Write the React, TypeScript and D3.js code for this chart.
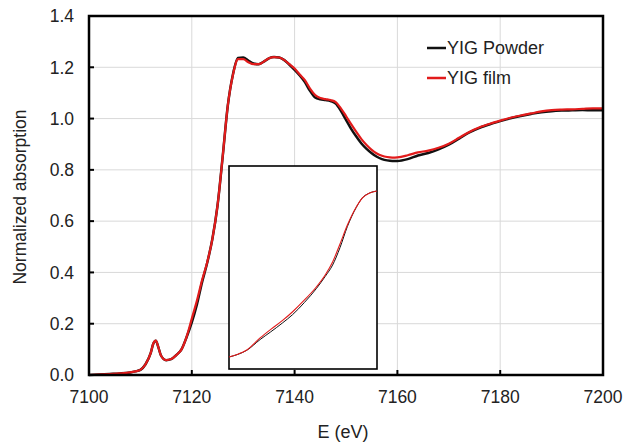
import * as d3 from 'd3'
import { useEffect } from 'react'

const W = 625
const H = 445
const PLOT = { left: 89, right: 603, top: 16, bottom: 375 }
const INSET = { left: 229, right: 377, top: 166, bottom: 369 }
const FONT = '"Liberation Sans", Arial, sans-serif'
const RED = '#e21b1b'
const BLACK = '#111111'

const energy = [
  7100, 7102, 7104, 7106, 7108, 7109, 7110, 7111, 7112, 7112.5, 7113, 7113.5, 7114, 7115,
  7116, 7117, 7118, 7119, 7120, 7121, 7122, 7123, 7124, 7125, 7126, 7127, 7128, 7129,
  7130, 7131, 7132, 7133, 7134, 7135, 7136, 7137, 7138, 7139, 7140, 7141, 7142, 7143,
  7144, 7145, 7146, 7147, 7148, 7149, 7150, 7151, 7152, 7153, 7154, 7155, 7156, 7157,
  7158, 7159, 7160, 7162, 7164, 7166, 7168, 7170, 7172, 7174, 7176, 7178, 7180, 7182,
  7184, 7186, 7188, 7190, 7192, 7194, 7196, 7198, 7200,
]

const film = [
  0.0, 0.002, 0.004, 0.006, 0.01, 0.014, 0.02, 0.042, 0.085, 0.122, 0.134, 0.108, 0.076, 0.058,
  0.062, 0.078, 0.1, 0.15, 0.22, 0.29, 0.37, 0.44, 0.53, 0.66, 0.85, 1.05, 1.17, 1.232,
  1.232, 1.22, 1.212, 1.212, 1.222, 1.235, 1.24, 1.238, 1.228, 1.212, 1.195, 1.172, 1.15, 1.117,
  1.092, 1.08, 1.076, 1.072, 1.064, 1.04, 1.01, 0.978, 0.948, 0.92, 0.897, 0.878, 0.864, 0.855,
  0.85, 0.848, 0.849, 0.857, 0.868, 0.875, 0.886, 0.902, 0.925, 0.948, 0.966, 0.98, 0.992, 1.003,
  1.012, 1.02, 1.028, 1.033, 1.035, 1.036, 1.038, 1.04, 1.04,
]

const powder = [
  0.0, 0.002, 0.004, 0.006, 0.01, 0.014, 0.02, 0.042, 0.085, 0.122, 0.134, 0.108, 0.076, 0.058,
  0.062, 0.078, 0.1, 0.148, 0.205, 0.275, 0.362, 0.438, 0.53, 0.66, 0.85, 1.05, 1.172, 1.236,
  1.238, 1.226, 1.215, 1.212, 1.222, 1.235, 1.24, 1.238, 1.228, 1.21, 1.19, 1.168, 1.142, 1.108,
  1.082, 1.075, 1.072, 1.068, 1.058, 1.03, 0.995, 0.96, 0.93, 0.903, 0.882, 0.865, 0.851, 0.842,
  0.837, 0.835, 0.835, 0.842, 0.856, 0.866, 0.88, 0.898, 0.922, 0.946, 0.964, 0.978, 0.99, 1.001,
  1.01, 1.018, 1.025, 1.029, 1.031, 1.032, 1.033, 1.032, 1.032,
]

// inset: zoomed view, arbitrary 0-100 units
const insetX = [0, 6, 12, 21, 28, 36, 43, 51, 59, 65, 70, 75, 80, 86, 90, 95, 100]
const insetFilm = [5.9, 7.3, 9.4, 15.3, 19.4, 23.8, 28.2, 34, 40.4, 46.3, 52.7, 61.6, 70.9, 79.8, 84.2, 86.7, 87.7]
const insetPowder = [5.9, 7.2, 9.2, 14.5, 18.2, 22.6, 26.8, 32.8, 39.6, 45.6, 51.2, 59.8, 70.2, 79.6, 84.2, 86.7, 87.7]

const xTicks = [7100, 7120, 7140, 7160, 7180, 7200]
const yTicks = [0, 0.2, 0.4, 0.6, 0.8, 1.0, 1.2, 1.4]

const legendItems = [
  { label: 'YIG Powder', color: BLACK },
  { label: 'YIG film', color: RED },
]

export default function App() {
  useEffect(() => {
    document.body.style.margin = '0'
  }, [])

  const x = d3.scaleLinear().domain([7100, 7200]).range([PLOT.left, PLOT.right])
  const y = d3.scaleLinear().domain([0, 1.4]).range([PLOT.bottom, PLOT.top])
  const ix = d3.scaleLinear().domain([0, 100]).range([INSET.left, INSET.right])
  const iy = d3.scaleLinear().domain([0, 100]).range([INSET.bottom, INSET.top])

  const line = d3.line<number>()
    .x((_, i) => x(energy[i]))
    .y(d => y(d))
    .curve(d3.curveMonotoneX)

  const insetLine = d3.line<number>()
    .x((_, i) => ix(insetX[i]))
    .y(d => iy(d))
    .curve(d3.curveMonotoneX)

  return (
    <svg width={W} height={H} style={{ display: 'block', background: '#fff' }} fontFamily={FONT}>
      {/* grid */}
      {xTicks.slice(1, -1).map(t => (
        <line key={'gx' + t} x1={x(t)} x2={x(t)} y1={PLOT.top} y2={PLOT.bottom} stroke="#d9d9d9" strokeWidth={1} />
      ))}
      {yTicks.slice(1, -1).map(t => (
        <line key={'gy' + t} x1={PLOT.left} x2={PLOT.right} y1={y(t)} y2={y(t)} stroke="#d9d9d9" strokeWidth={1} />
      ))}

      {/* curves */}
      <path d={line(powder) ?? ''} fill="none" stroke={BLACK} strokeWidth={2.5} />
      <path d={line(film) ?? ''} fill="none" stroke={RED} strokeWidth={2.2} />

      {/* inset */}
      <rect x={INSET.left} y={INSET.top} width={INSET.right - INSET.left} height={INSET.bottom - INSET.top}
        fill="#fff" stroke="#000" strokeWidth={1.6} />
      <path d={insetLine(insetPowder) ?? ''} fill="none" stroke={BLACK} strokeWidth={1} />
      <path d={insetLine(insetFilm) ?? ''} fill="none" stroke={RED} strokeWidth={1.1} />

      {/* ticks (inward) */}
      {xTicks.slice(1, -1).map(t => (
        <line key={'tx' + t} x1={x(t)} x2={x(t)} y1={PLOT.bottom} y2={PLOT.bottom - 5} stroke="#000" strokeWidth={2} />
      ))}
      {yTicks.slice(1, -1).map(t => (
        <line key={'ty' + t} x1={PLOT.left} x2={PLOT.left + 5} y1={y(t)} y2={y(t)} stroke="#000" strokeWidth={2} />
      ))}

      {/* frame */}
      <rect x={PLOT.left} y={PLOT.top} width={PLOT.right - PLOT.left} height={PLOT.bottom - PLOT.top}
        fill="none" stroke="#000" strokeWidth={2.5} />

      {/* tick labels */}
      {xTicks.map(t => (
        <text key={'lx' + t} x={x(t)} y={403} textAnchor="middle" fontSize={17.5} fill="#222">{t}</text>
      ))}
      {yTicks.map(t => (
        <text key={'ly' + t} x={74} y={y(t)} dy="0.36em" textAnchor="end" fontSize={17.5} fill="#222">{t.toFixed(1)}</text>
      ))}

      {/* axis titles */}
      <text x={343} y={438} textAnchor="middle" fontSize={18} fill="#222">E (eV)</text>
      <text transform="translate(26,197) rotate(-90)" textAnchor="middle" fontSize={17.5} fill="#222">Normalized absorption</text>

      {/* legend */}
      {legendItems.map((d, i) => (
        <g key={d.label} transform={`translate(427, ${48 + i * 30})`}>
          <line x1={0} x2={19} y1={0} y2={0} stroke={d.color} strokeWidth={2.5} />
          <text x={20} y={6} fontSize={18} fill="#222">{d.label}</text>
        </g>
      ))}
    </svg>
  )
}
